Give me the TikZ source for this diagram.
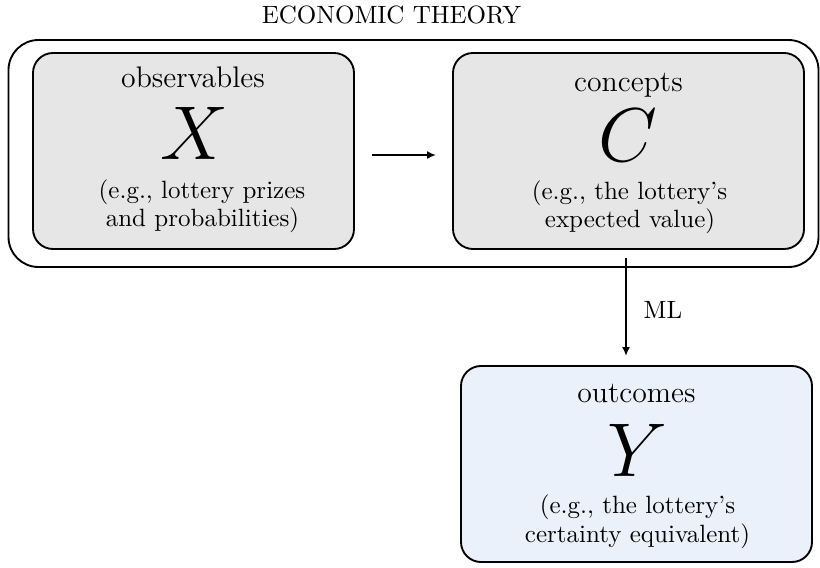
\documentclass[tikz,border=0pt]{standalone}
\usepackage{graphicx}
\usetikzlibrary{arrows.meta}
\definecolor{boxgray}{RGB}{230,230,230}
\definecolor{boxblue}{RGB}{234,241,251}
\newcommand{\bigsym}[1]{\scalebox{1.226}{\fontsize{24.88}{30}\selectfont$#1$}}
\begin{document}
\begin{tikzpicture}[x=0.4pt,y=-0.4pt,
  box/.style={draw=black, line width=0.75pt, rounded corners=8pt, inner sep=0pt},
  head/.style={anchor=base, inner sep=0pt, font=\fontsize{11.9}{14}\selectfont},
  big/.style={anchor=base, inner sep=0pt},
  desc/.style={anchor=base, inner sep=0pt, font=\fontsize{10}{12}\selectfont},
  arr/.style={-{Latex[length=3.6pt,width=3.2pt]}, line width=0.75pt}]
\useasboundingbox (0,0) rectangle (820,567);
% title
\node[anchor=base, inner sep=0pt, font=\fontsize{10}{12}\selectfont] (title) at (391.5,23) {ECONOMIC THEORY};
% boxes
\node[box, rounded corners=12pt, minimum width=324pt, minimum height=90.8pt] (outer) at (413.5,153.5) {};
\node[box, fill=boxgray, minimum width=128.4pt, minimum height=78.4pt] (xbox) at (193.5,151) {};
\node[box, fill=boxgray, minimum width=140.4pt, minimum height=78.4pt] (cbox) at (628.5,151) {};
\node[box, fill=boxblue, minimum width=140.4pt, minimum height=78.4pt] (ybox) at (636.5,464) {};
% left box texts
\node[head] (xhead) at (193,87) {observables};
\node[big] (xsym) at (194,159) {\bigsym{X}};
\node[desc] (xd1) at (202,198) {(e.g., lottery prizes};
\node[desc] (xd2) at (202.5,226) {and probabilities)};
% right box texts
\node[head] (chead) at (628.5,91) {concepts};
\node[big] (csym) at (628,161) {\bigsym{C}};
\node[desc] (cd1) at (629.5,199) {(e.g., the lottery's};
\node[desc] (cd2) at (630,227) {expected value)};
% bottom box texts
\node[head] (yhead) at (636.5,402) {outcomes};
\node[big] (ysym) at (637.5,476) {\bigsym{Y}};
\node[desc] (yd1) at (637.5,513) {(e.g., the lottery's};
\node[desc] (yd2) at (637.5,542) {certainty equivalent)};
% connectors
\draw[arr] ([xshift=6.8pt,yshift=-1.6pt]xbox.east) -- ([xshift=-6.4pt,yshift=-1.6pt]cbox.west);
\coordinate (mlstart) at ([xshift=-1pt,yshift=-3.2pt]cbox.south);
\draw[arr] (mlstart) -- ([yshift=3.6pt]ybox.north -| mlstart);
\node[anchor=base, inner sep=0pt, font=\fontsize{10}{12}\selectfont] (ml) at (663,318) {ML};
\end{tikzpicture}
\end{document}
